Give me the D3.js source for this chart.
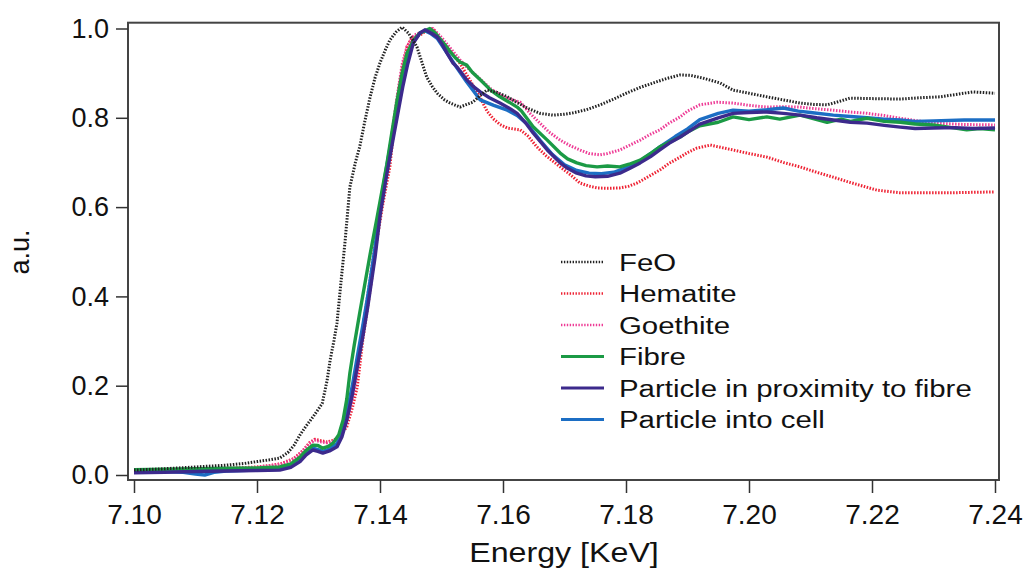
<!doctype html>
<html lang='en'>
<head>
    <meta charset='utf-8'>
    <title>Fe K-edge XANES</title>
    <script src='https://cdn.jsdelivr.net/npm/d3@7/dist/d3.min.js'></script>
    <style>
        body { margin: 0; background: white; }
        svg text { font-family: 'Liberation Sans', Arial, Helvetica, sans-serif; fill: #111; }
        .frame { fill: none; stroke: #444; stroke-width: 2px; }
        .tick line { stroke: #333; stroke-width: 1.5px; }
    </style>
</head>
<body>
<svg id='chart' width='1026' height='568'></svg>
<script>
    // values, [energy KeV, a.u.]
    const feo = [[7.100,0.011],[7.105,0.014],[7.110,0.018],[7.115,0.022],[7.118,0.026],[7.120,0.030],[7.122,0.034],[7.1237,0.038],
        [7.125,0.050],[7.126,0.066],[7.127,0.090],[7.128,0.110],[7.1291,0.130],[7.1306,0.160],[7.1314,0.212],[7.1319,0.258],
        [7.1325,0.300],[7.1330,0.340],[7.1338,0.452],[7.1343,0.520],[7.1351,0.645],[7.1360,0.700],[7.1367,0.735],[7.1375,0.790],
        [7.1384,0.847],[7.1392,0.890],[7.1400,0.923],[7.1408,0.950],[7.1416,0.974],[7.1426,0.992],[7.1436,1.003],[7.1446,0.990],
        [7.1453,0.975],[7.1460,0.959],[7.1468,0.925],[7.1476,0.891],[7.1485,0.870],[7.1493,0.855],[7.1505,0.840],[7.1514,0.833],
        [7.1530,0.824],[7.1541,0.830],[7.1551,0.835],[7.1563,0.850],[7.1574,0.862],[7.1590,0.857],[7.1607,0.847],[7.1622,0.835],
        [7.1639,0.822],[7.1660,0.810],[7.1681,0.806],[7.1700,0.808],[7.1714,0.811],[7.1735,0.818],[7.1758,0.829],[7.1780,0.842],
        [7.1802,0.856],[7.1823,0.868],[7.1844,0.878],[7.1866,0.888],[7.1888,0.896],[7.1905,0.895],[7.1925,0.889],[7.1953,0.878],
        [7.1974,0.862],[7.2000,0.855],[7.2029,0.847],[7.2056,0.840],[7.2083,0.833],[7.2105,0.830],[7.2127,0.829],[7.2145,0.836],
        [7.2164,0.844],[7.2200,0.843],[7.2246,0.842],[7.2280,0.845],[7.2311,0.847],[7.2340,0.853],[7.2364,0.858],[7.2400,0.855]];

    const hematite = [[7.100,0.010],[7.105,0.011],[7.110,0.013],[7.115,0.015],[7.120,0.018],[7.1225,0.022],[7.124,0.026],[7.126,0.037],
        [7.1275,0.055],[7.1285,0.072],[7.1294,0.080],[7.1304,0.077],[7.1314,0.074],[7.1325,0.078],[7.1335,0.088],[7.1346,0.108],
        [7.1355,0.150],[7.1363,0.197],[7.1372,0.302],[7.1384,0.414],[7.1395,0.526],[7.1405,0.610],[7.1416,0.690],[7.1427,0.833],
        [7.1436,0.910],[7.1444,0.959],[7.1452,0.980],[7.1465,0.985],[7.1475,0.995],[7.1486,1.000],[7.1498,0.974],[7.1514,0.950],
        [7.1530,0.922],[7.1546,0.885],[7.1563,0.845],[7.1574,0.815],[7.1584,0.798],[7.1595,0.785],[7.1607,0.777],[7.1628,0.773],
        [7.1640,0.760],[7.1655,0.735],[7.1670,0.715],[7.1693,0.690],[7.1710,0.672],[7.1725,0.654],[7.1740,0.647],[7.1753,0.643],
        [7.1770,0.642],[7.1790,0.643],[7.1805,0.647],[7.1818,0.654],[7.1835,0.667],[7.1855,0.683],[7.1870,0.698],[7.1888,0.712],
        [7.1900,0.722],[7.1915,0.732],[7.1937,0.739],[7.1950,0.735],[7.1974,0.728],[7.2000,0.720],[7.2029,0.712],[7.2056,0.700],
        [7.2083,0.690],[7.2110,0.678],[7.2137,0.667],[7.2160,0.657],[7.2180,0.649],[7.2208,0.638],[7.2246,0.632],[7.2300,0.632],
        [7.2327,0.632],[7.2360,0.633],[7.2400,0.634]];

    const goethite = [[7.100,0.010],[7.110,0.013],[7.120,0.017],[7.124,0.025],[7.126,0.036],[7.1275,0.055],[7.1285,0.070],[7.1294,0.078],
        [7.1305,0.074],[7.1314,0.072],[7.1325,0.076],[7.1335,0.090],[7.1346,0.120],[7.1355,0.170],[7.1363,0.230],[7.1372,0.330],
        [7.1384,0.440],[7.1395,0.550],[7.1405,0.640],[7.1416,0.730],[7.1427,0.840],[7.1436,0.920],[7.1444,0.960],[7.1455,0.985],
        [7.1470,0.993],[7.1486,1.000],[7.1500,0.980],[7.1515,0.955],[7.1530,0.930],[7.1541,0.914],[7.1560,0.890],[7.1580,0.865],
        [7.1600,0.848],[7.1616,0.840],[7.1628,0.835],[7.1644,0.810],[7.1660,0.788],[7.1675,0.768],[7.1693,0.750],[7.1710,0.737],
        [7.1725,0.728],[7.1740,0.720],[7.1758,0.717],[7.1770,0.720],[7.1790,0.728],[7.1805,0.738],[7.1823,0.750],[7.1838,0.762],
        [7.1855,0.773],[7.1870,0.788],[7.1888,0.802],[7.1900,0.815],[7.1920,0.829],[7.1948,0.835],[7.1974,0.833],[7.2000,0.828],
        [7.2029,0.824],[7.2056,0.825],[7.2083,0.824],[7.2110,0.820],[7.2137,0.817],[7.2165,0.813],[7.2192,0.810],[7.2220,0.805],
        [7.2246,0.799],[7.2275,0.793],[7.2300,0.788],[7.2350,0.785],[7.2400,0.784]];

    const fibre = [[7.100,0.012],[7.105,0.013],[7.110,0.014],[7.115,0.015],[7.120,0.016],[7.1237,0.018],[7.1255,0.025],[7.127,0.040],
        [7.128,0.055],[7.1291,0.067],[7.1299,0.066],[7.1307,0.060],[7.1316,0.064],[7.1324,0.072],[7.1333,0.090],[7.1340,0.123],
        [7.1346,0.170],[7.1351,0.228],[7.1358,0.290],[7.1367,0.363],[7.1375,0.425],[7.1384,0.495],[7.1395,0.575],[7.1403,0.635],
        [7.1411,0.695],[7.1419,0.765],[7.1427,0.833],[7.1436,0.900],[7.1444,0.945],[7.1455,0.975],[7.1465,0.990],[7.1481,1.000],
        [7.1490,0.990],[7.1498,0.976],[7.1506,0.963],[7.1514,0.948],[7.1522,0.935],[7.1530,0.925],[7.1541,0.918],[7.1550,0.902],
        [7.1563,0.885],[7.1580,0.862],[7.1595,0.847],[7.1610,0.835],[7.1623,0.824],[7.1630,0.815],[7.1649,0.780],[7.1672,0.750],
        [7.1693,0.721],[7.1705,0.708],[7.1720,0.699],[7.1735,0.693],[7.1753,0.690],[7.1770,0.692],[7.1790,0.690],[7.1805,0.696],
        [7.1823,0.705],[7.1840,0.720],[7.1855,0.735],[7.1870,0.745],[7.1888,0.757],[7.1900,0.768],[7.1920,0.782],[7.1950,0.790],
        [7.1974,0.802],[7.2000,0.796],[7.2029,0.802],[7.2050,0.797],[7.2083,0.806],[7.2100,0.800],[7.2127,0.790],[7.2150,0.797],
        [7.2165,0.792],[7.2192,0.799],[7.2220,0.792],[7.2246,0.790],[7.2270,0.786],[7.2300,0.784],[7.2330,0.778],[7.2354,0.773],
        [7.2375,0.776],[7.2400,0.773]];

    const proximity = [[7.100,0.005],[7.105,0.006],[7.110,0.008],[7.115,0.009],[7.120,0.010],[7.1237,0.011],[7.1255,0.017],[7.127,0.030],
        [7.128,0.045],[7.1291,0.056],[7.1299,0.053],[7.1307,0.049],[7.1318,0.054],[7.1330,0.063],[7.1338,0.085],[7.1346,0.123],
        [7.1355,0.180],[7.1363,0.242],[7.1372,0.310],[7.1380,0.376],[7.1392,0.488],[7.1400,0.580],[7.1410,0.665],[7.1421,0.750],
        [7.1437,0.869],[7.1445,0.920],[7.1454,0.967],[7.1465,0.990],[7.1473,0.997],[7.1483,0.990],[7.1493,0.981],[7.1501,0.965],
        [7.1509,0.945],[7.1519,0.922],[7.1525,0.914],[7.1533,0.900],[7.1541,0.885],[7.1552,0.870],[7.1563,0.858],[7.1578,0.845],
        [7.1595,0.833],[7.1612,0.820],[7.1623,0.810],[7.1636,0.790],[7.1649,0.766],[7.1672,0.728],[7.1693,0.699],[7.1705,0.687],
        [7.1720,0.676],[7.1735,0.670],[7.1750,0.668],[7.1770,0.669],[7.1790,0.676],[7.1805,0.686],[7.1823,0.699],[7.1840,0.713],
        [7.1855,0.728],[7.1870,0.743],[7.1888,0.757],[7.1905,0.772],[7.1920,0.786],[7.1950,0.800],[7.1974,0.810],[7.2000,0.812],
        [7.2029,0.813],[7.2056,0.810],[7.2083,0.806],[7.2110,0.800],[7.2137,0.795],[7.2165,0.790],[7.2192,0.788],[7.2220,0.783],
        [7.2246,0.779],[7.2270,0.776],[7.2300,0.777],[7.2335,0.778],[7.2365,0.776],[7.2400,0.777]];

    const intoCell = [[7.100,0.008],[7.105,0.008],[7.108,0.006],[7.110,0.002],[7.1115,0.000],[7.113,0.006],[7.115,0.009],[7.120,0.011],
        [7.1237,0.013],[7.1255,0.020],[7.127,0.033],[7.128,0.048],[7.1291,0.060],[7.1299,0.057],[7.1307,0.053],[7.1318,0.058],
        [7.1330,0.070],[7.1338,0.095],[7.1346,0.140],[7.1355,0.200],[7.1363,0.265],[7.1372,0.335],[7.1380,0.400],[7.1392,0.510],
        [7.1400,0.600],[7.1410,0.685],[7.1421,0.770],[7.1437,0.880],[7.1445,0.930],[7.1454,0.970],[7.1465,0.990],[7.1473,0.995],
        [7.1483,0.988],[7.1493,0.978],[7.1509,0.945],[7.1525,0.912],[7.1541,0.880],[7.1563,0.840],[7.1585,0.828],[7.1607,0.817],
        [7.1623,0.805],[7.1640,0.785],[7.1660,0.750],[7.1680,0.718],[7.1700,0.695],[7.1720,0.682],[7.1740,0.676],[7.1760,0.675],
        [7.1780,0.678],[7.1800,0.688],[7.1823,0.703],[7.1855,0.735],[7.1880,0.758],[7.1900,0.775],[7.1920,0.796],[7.1950,0.810],
        [7.1974,0.817],[7.2000,0.815],[7.2029,0.818],[7.2056,0.822],[7.2080,0.815],[7.2100,0.812],[7.2137,0.806],[7.2165,0.803],
        [7.2192,0.800],[7.2220,0.797],[7.2246,0.795],[7.2270,0.792],[7.2300,0.793],[7.2350,0.795],[7.2400,0.795]];

    const seriesNames = ['FeO', 'Hematite', 'Goethite', 'Fibre', 'Particle in proximity to fibre', 'Particle into cell'];
    const seriesData = [feo, hematite, goethite, fibre, proximity, intoCell];
    const seriesColors = ['#222222', '#ee2233', '#ee3c96', '#1b9a45', '#3c2a8c', '#1c6ec4'];
    const seriesDotted = [true, true, true, false, false, false];
    const xTicks = [7.10, 7.12, 7.14, 7.16, 7.18, 7.20, 7.22, 7.24];
    const yTicks = [0.0, 0.2, 0.4, 0.6, 0.8, 1.0];

    const svg = d3.select('#chart');

    const x = d3.scaleLinear().domain([7.10, 7.24]).range([134, 995]);
    const y = d3.scaleLinear().domain([0, 1]).range([475, 28.5]);

    const frame = {left: 128, top: 22.7, right: 999, bottom: 480};

    const line = d3.line()
        .x(d => x(d[0]))
        .y(d => y(d[1]));

    // dotted references under the solid spectra, solid ones drawn blue, green, purple
    const drawOrder = [1, 2, 5, 3, 4, 0];
    drawOrder.forEach(i => {
        svg.append('path')
            .datum(seriesData[i])
            .attr('d', line)
            .attr('fill', 'none')
            .attr('stroke', seriesColors[i])
            .attr('stroke-width', seriesDotted[i] ? 3 : 3.4)
            .attr('stroke-dasharray', seriesDotted[i] ? '1.5,1.5' : null)
            .attr('stroke-linejoin', 'round');
    });

    svg.append('rect')
        .attr('class', 'frame')
        .attr('x', frame.left)
        .attr('y', frame.top)
        .attr('width', frame.right - frame.left)
        .attr('height', frame.bottom - frame.top);

    const yAxis = svg.append('g')
        .attr('transform', `translate(${frame.left},0)`)
        .call(d3.axisLeft(y).tickValues(yTicks).tickFormat(d3.format('.1f')).tickSize(12).tickPadding(7));
    yAxis.select('.domain').remove();
    yAxis.selectAll('text').style('font-size', '27px').style('font-family', null);

    const xAxis = svg.append('g')
        .attr('transform', `translate(0,${frame.bottom})`)
        .call(d3.axisBottom(x).tickValues(xTicks).tickFormat(d3.format('.2f')).tickSize(13).tickPadding(11));
    xAxis.select('.domain').remove();
    xAxis.selectAll('text').style('font-size', '28px').style('font-family', null);

    svg.append('text')
        .attr('transform', 'translate(564,562) scale(1.15,1)')
        .attr('text-anchor', 'middle')
        .style('font-size', '28px')
        .text('Energy [KeV]');

    svg.append('text')
        .attr('transform', 'translate(29,252) rotate(-90)')
        .attr('text-anchor', 'middle')
        .style('font-size', '27px')
        .text('a.u.');

    // legend
    const legendRows = [262, 293.5, 325, 356.5, 388, 419.5];
    seriesNames.forEach((name, i) => {
        const ly = legendRows[i];
        svg.append('line')
            .attr('x1', 561).attr('x2', 604)
            .attr('y1', ly).attr('y2', ly)
            .attr('stroke', seriesColors[i])
            .attr('stroke-width', seriesDotted[i] ? 2.6 : 3)
            .attr('stroke-dasharray', seriesDotted[i] ? '1.4,1.5' : null);
        svg.append('text')
            .attr('transform', `translate(619,${ly + 8.6}) scale(1.2,1)`)
            .style('font-size', '24.5px')
            .text(name);
    });
</script>
</body>
</html>
